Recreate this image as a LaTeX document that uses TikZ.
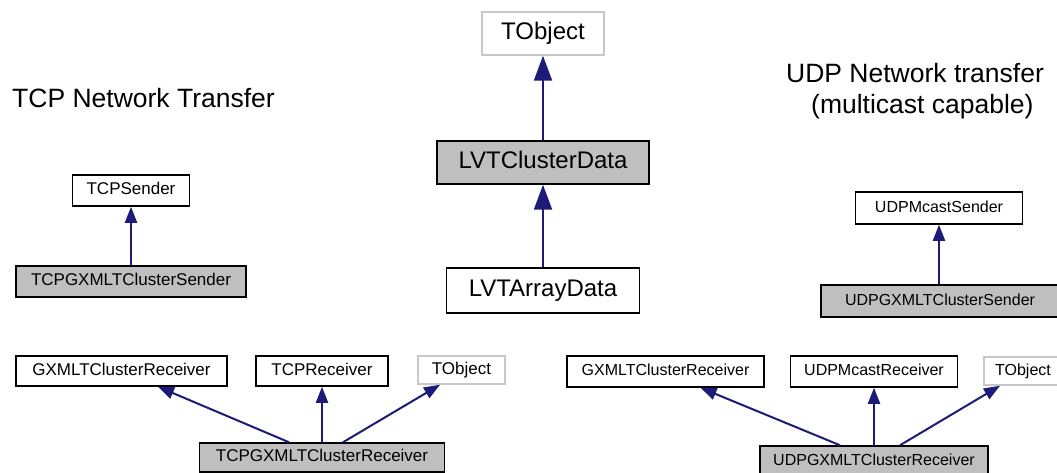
\documentclass[tikz,border=0pt]{standalone}
\usepackage{fontspec}
\setmainfont{Liberation Sans}
\usetikzlibrary{arrows.meta}
\definecolor{navy}{HTML}{1C1C78}
\definecolor{boxgray}{HTML}{BFBFBF}
\definecolor{lightborder}{HTML}{C8C8C8}
\begin{document}
\begin{tikzpicture}[x=1pt,y=-1pt,
  box/.style={draw=black,line width=1.5pt,inner sep=0pt},
  grayfill/.style={fill=boxgray},
  faint/.style={draw=lightborder},
  smallL/.style={font=\fontsize{17}{20}\selectfont,text height=8.6pt,text depth=0pt},
  smallR/.style={font=\fontsize{16}{19}\selectfont,text height=8.2pt,text depth=0pt},
  bigtxt/.style={font=\fontsize{24}{28}\selectfont,text height=11.5pt,text depth=0pt},
  title/.style={font=\fontsize{26.5}{31}\selectfont,inner sep=0pt,anchor=base west},
  arr/.style={draw=navy,line width=2pt,-{Triangle[length=16pt,width=12pt]}},
  bigarr/.style={draw=navy,line width=2.2pt,-{Triangle[length=25pt,width=18pt]}}
]
\useasboundingbox (0,0) rectangle (1057,473);
\clip (0,0) rectangle (1057,473);
\fill[white] (0,0) rectangle (1057,473);

% titles
\node[title] (tcptitle) at (12,108) {TCP Network Transfer};
\node[title] (udptitle1) at (786,83) {UDP Network transfer};
\node[title] (udptitle2) at (811,114) {(multicast capable)};

% centre column
\node[box,faint,bigtxt,minimum width=122pt,minimum height=43pt] (tobjc) at (543,33.5) {TObject};
\node[box,grayfill,bigtxt,minimum width=212pt,minimum height=43pt] (lvtc) at (543,162.5) {LVTClusterData};
\node[box,bigtxt,minimum width=193pt,minimum height=45pt] (lvta) at (543,290.5) {LVTArrayData};
\draw[bigarr] (lvtc.north) -- (tobjc.south);
\draw[bigarr] (lvta.north) -- (lvtc.south);

% TCP sender
\node[box,smallL,minimum width=117pt,minimum height=31pt] (tcps) at (131,190.5) {TCPSender};
\node[box,grayfill,smallL,minimum width=230pt,minimum height=31pt] (tcpgs) at (131,281.5) {TCPGXMLTClusterSender};
\draw[arr] (tcpgs.north) -- (tcps.south);

% TCP receiver
\node[box,smallL,minimum width=211pt,minimum height=30pt] (gxl) at (121.5,371) {GXMLTClusterReceiver};
\node[box,smallL,minimum width=132pt,minimum height=30pt] (tcpr) at (322,371) {TCPReceiver};
\node[box,faint,smallL,minimum width=87pt,minimum height=28pt] (tobjl) at (461.5,370) {TObject};
\node[box,grayfill,smallL,minimum width=245pt,minimum height=29pt] (tcpgr) at (322,457.5) {TCPGXMLTClusterReceiver};
\draw[arr] ([xshift=-33pt]tcpgr.north) -- ([xshift=36.5pt]gxl.south);
\draw[arr] (tcpgr.north) -- (tcpr.south);
\draw[arr] ([xshift=21pt]tcpgr.north) -- ([xshift=-21.5pt]tobjl.south);

% UDP sender
\node[box,smallR,minimum width=167pt,minimum height=32pt] (udps) at (939,208) {UDPMcastSender};
\node[box,grayfill,smallR,minimum width=238pt,minimum height=32pt] (udpgs) at (940,301) {UDPGXMLTClusterSender};
\draw[arr] (udpgs.north -| udps.south) -- (udps.south);

% UDP receiver
\node[box,smallR,minimum width=197pt,minimum height=31pt] (gxr) at (665.5,371.5) {GXMLTClusterReceiver};
\node[box,smallR,minimum width=167pt,minimum height=31pt] (udpr) at (874,371.5) {UDPMcastReceiver};
\node[box,faint,smallR,minimum width=78pt,minimum height=28pt] (tobjr) at (1023,371) {TObject};
\node[box,grayfill,smallR,minimum width=228pt,minimum height=31pt] (udpgr) at (874,461.5) {UDPGXMLTClusterReceiver};
\draw[arr] ([xshift=-34pt]udpgr.north) -- ([xshift=35pt]gxr.south);
\draw[arr] (udpgr.north) -- (udpr.south);
\draw[arr] ([xshift=26pt]udpgr.north) -- ([xshift=-23pt]tobjr.south);
\end{tikzpicture}
\end{document}
